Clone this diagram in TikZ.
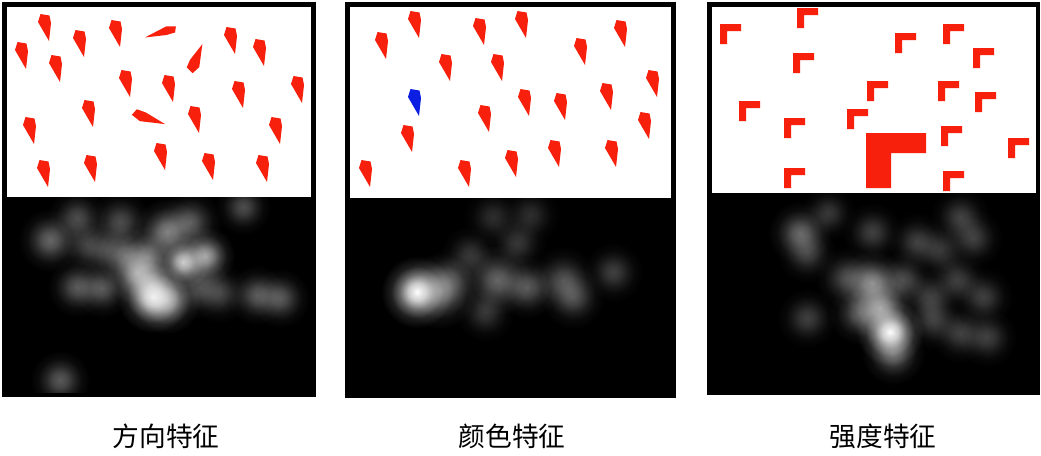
\documentclass[tikz,border=0pt]{standalone}
\usepackage{fontspec}
\newfontfamily\cjk{Noto Sans CJK SC}
\usetikzlibrary{fadings}
\definecolor{kitered}{RGB}{246,32,12}
\definecolor{kiteblue}{RGB}{12,30,225}
\pgfdeclareradialshading{blobshade}{\pgfpointorigin}{color(0bp)=(white); color(6bp)=(white!78!black);
  color(12bp)=(white!40!black); color(18bp)=(white!12!black); color(25bp)=(black); color(50bp)=(black)}
\pgfdeclarefading{softblob}{\pgfuseshading{blobshade}}
\tikzset{
  kite/.pic={\path[pic actions] (-4.5,-13) -- (4.5,-11.5) -- (6,-4) -- (4,14) -- (-7,-5) -- cycle;},
  corner/.pic={\path[pic actions] (0,0) -- (21,0) -- (21,7) -- (7,7) -- (7,20) -- (0,20) -- cycle;},
  blob/.style={fill=white, path fading=softblob, fill opacity=#1},
  caption/.style={font=\cjk\fontsize{19}{22}\selectfont, inner sep=0pt},
}

\begin{document}
\begin{tikzpicture}[x=0.025cm, y=-0.025cm]
    \useasboundingbox (0,0) rectangle (1041,455);
    % frames: black panel, white upper half
    \fill[black] (2,2) rectangle (316,397);
    \fill[white] (7,7) rectangle (311,197);
    \fill[black] (345,2) rectangle (676,398);
    \fill[white] (350,7) rectangle (671,198);
    \fill[black] (707,2) rectangle (1040,395);
    \fill[white] (712,7) rectangle (1036,193);

    % orientation
    \foreach \x/\y in {45/27, 80/43, 116/33, 231/40, 260/52, 22/55, 56/68, 126/83, 169/88,
        239/94, 298/89, 89/113, 195/119, 30/130, 276/130, 161/156, 44/173, 91/168, 209/166, 263/168}
      \pic[fill=kitered] at (\x,\y) {kite};
    \pic[fill=kitered, rotate=-80, xscale=.65, yscale=1.2] at (161,32) {kite};
    \pic[fill=kitered, rotate=147, xscale=.9, yscale=1.1] at (197,59) {kite};
    \pic[fill=kitered, rotate=63, xscale=.8, yscale=1.25] at (148,119) {kite};

    % colour
    \foreach \x/\y in {415/24, 382/45, 480/31, 522/24, 621/33, 581/51, 446/67, 498/67, 653/83,
        525/102, 561/106, 607/96, 485/118, 645/125, 408/138, 555/153, 612/153, 512/163, 366/173, 465/173}
      \pic[fill=kitered] at (\x,\y) {kite};
    \pic[fill=kiteblue] at (415,102) {kite};

    % intensity
    \foreach \x/\y in {720/24, 797/8, 895/33, 943/24, 793/53, 973/48, 867/81, 938/81, 975/92,
        739/101, 784/118, 847/109, 941/126, 1008/138, 784/168, 943/171}
      \pic[fill=kitered] at (\x,\y) {corner};
    \fill[kitered] (866,133) -- (926,133) -- (926,153) -- (891,153) -- (891,188) -- (866,188) -- cycle;

    % saliency maps
    \begin{scope}
      \clip (7,197) rectangle (311,392);
      \foreach \x/\y/\r/\o in {50/240/32/.4, 77/218/30/.3, 120/222/32/.3, 87/245/30/.25, 107/250/30/.25,
          167/232/34/.5, 190/222/32/.35, 183/262/28/.8, 205/256/30/.65, 147/257/32/.45, 137/273/32/.6,
          153/297/36/.9, 167/300/34/.6, 150/285/32/.45, 77/287/30/.35, 102/288/30/.35, 200/287/32/.3,
          220/293/30/.25, 257/295/30/.35, 280/298/30/.35, 243/207/28/.3, 60/380/30/.35, 125/255/30/.35}
        \fill[blob=\o] (\x,\y) circle (\r);
    \end{scope}
    \begin{scope}
      \clip (350,198) rectangle (671,393);
      \foreach \x/\y/\r/\o in {417/292/36/1, 440/291/38/.45, 450/280/32/.25, 497/280/36/.4, 527/287/32/.35,
          563/280/34/.3, 573/297/32/.3, 613/272/30/.25, 493/217/30/.18, 530/215/30/.18, 470/255/30/.22,
          517/243/30/.22, 485/312/30/.22}
        \fill[blob=\o] (\x,\y) circle (\r);
    \end{scope}
    \begin{scope}
      \clip (712,193) rectangle (1036,390);
      \foreach \x/\y/\r/\o in {890/332/34/1, 880/308/34/.6, 872/283/34/.55, 847/278/32/.3, 860/313/32/.35,
          800/233/32/.4, 807/253/30/.25, 828/213/28/.22, 872/232/30/.25, 917/242/30/.25, 960/217/30/.25,
          973/238/30/.25, 940/250/30/.22, 903/280/30/.3, 930/297/30/.25, 957/280/30/.25, 983/297/30/.25,
          807/318/30/.25, 933/320/30/.25, 960/333/30/.25, 987/337/30/.25, 893/353/32/.4}
        \fill[blob=\o] (\x,\y) circle (\r);
    \end{scope}

    \node[caption] (dir) at (166,436) {方向特征};
    \node[caption] (col) at (512,436) {颜色特征};
    \node[caption] (int) at (883,436) {强度特征};
  \end{tikzpicture}
\end{document}
